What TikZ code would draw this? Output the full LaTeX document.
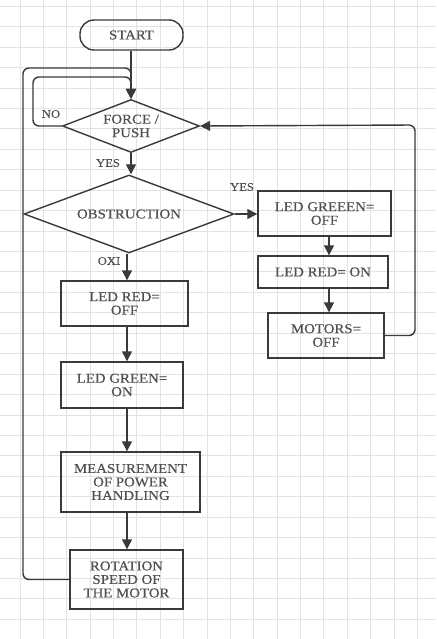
\documentclass[tikz,border=0pt]{standalone}
\usepackage{fontspec}
\setmainfont[FakeStretch=1.1,FakeBold=0.4]{Liberation Serif}
\usetikzlibrary{shapes.geometric,arrows.meta}
\definecolor{linec}{HTML}{3A3A3A}
\definecolor{textc}{HTML}{505050}
\definecolor{gridc}{HTML}{E3E3E3}
\begin{document}
\begin{tikzpicture}[x=1pt,y=-1pt,
  every node/.style={text=textc,font=\fontsize{13.5}{13.5}\selectfont,align=center},
  box/.style={draw=linec,line width=1.4pt,rectangle,inner sep=2pt},
  startbox/.style={draw=linec,line width=1.4pt,rectangle,rounded corners=14pt,inner sep=2pt},
  decision/.style={draw=linec,line width=1.4pt,diamond,inner sep=0pt},
  tip/.style={-{Triangle[width=10pt,length=10pt]}},
  arr/.style={draw=linec,line width=1.4pt,tip},
  link/.style={draw=linec,line width=1.4pt,rounded corners=6pt,tip},
  lbl/.style={text=textc,font=\fontsize{11.5}{11.5}\selectfont,inner sep=0pt}
]
\useasboundingbox (0,0) rectangle (436,639);
\fill[white] (0,0) rectangle (436,639);
% grid
\foreach \k in {0,...,17} {
  \draw[gridc,line width=0.8pt] ({20+23.37*\k},0) -- ({20+23.37*\k},639);
}
\foreach \k in {0,...,30} {
  \draw[gridc,line width=0.8pt] (0,{6.3+20.43*\k}) -- (436,{6.3+20.43*\k});
}

% nodes
\node[startbox,minimum width=103pt,minimum height=30pt] (start) at (131.5,35) {START};
\node[decision,shape aspect=2.8,minimum width=137pt,minimum height=53pt] (force) at (131,126) {FORCE /\\PUSH};
\node[decision,shape aspect=2.7,minimum width=210pt,minimum height=78pt] (obst) at (129,214) {OBSTRUCTION};
\node[box,minimum width=127pt,minimum height=45pt] (redoff) at (124.5,303.5) {LED RED=\\OFF};
\node[box,minimum width=122pt,minimum height=46pt] (greenon) at (122,385) {LED GREEN=\\ON};
\node[box,minimum width=139pt,minimum height=60pt] (measure) at (130.5,482) {MEASUREMENT\\OF POWER\\HANDLING};
\node[box,minimum width=113pt,minimum height=59pt] (rotation) at (126.5,579.5) {ROTATION\\SPEED OF\\THE MOTOR};
\node[box,minimum width=133pt,minimum height=45pt] (greenoff) at (324.5,213.5) {LED GREEEN=\\OFF};
\node[box,minimum width=130pt,minimum height=32pt] (redon) at (323,272) {LED RED= ON};
\node[box,minimum width=116pt,minimum height=45pt] (motors) at (326,335.5) {MOTORS=\\OFF};

% column coordinates
\coordinate (colL) at (127,0);
\coordinate (colR) at (329,0);

% labels
\node[lbl] (no) at (51,114) {NO};
\node[lbl] (yes1) at (108,163) {YES};
\node[lbl] (yes2) at (242,187) {YES};
\node[lbl] (oxi) at (109,261) {OXI};

% connectors
\draw[arr] (start.south -| force.north) -- (force.north);
\draw[link] (force.west) -- (33,126) -- (33,77) -- (force.north |- 0,77) -- (force.north);
\draw[link] (rotation.west) -- (23,579.5) -- (23,68) -- (force.north |- 0,68) -- (force.north);
\draw[arr] (force.south) -- (obst.north -| force.south);
\draw[arr] (obst.east) -- (greenoff.west |- obst.east);
\draw[arr] (obst.south -| colL) -- (redoff.north -| colL);
\draw[arr] (redoff.south -| colL) -- (greenon.north -| colL);
\draw[arr] (greenon.south -| colL) -- (measure.north -| colL);
\draw[arr] (measure.south -| colL) -- (rotation.north -| colL);
\draw[arr] (greenoff.south -| colR) -- (redon.north -| colR);
\draw[arr] (redon.south -| colR) -- (motors.north -| colR);
\draw[link] (motors.east) -- (415,335.5) -- (415,125) -- (force.east);
\end{tikzpicture}
\end{document}
